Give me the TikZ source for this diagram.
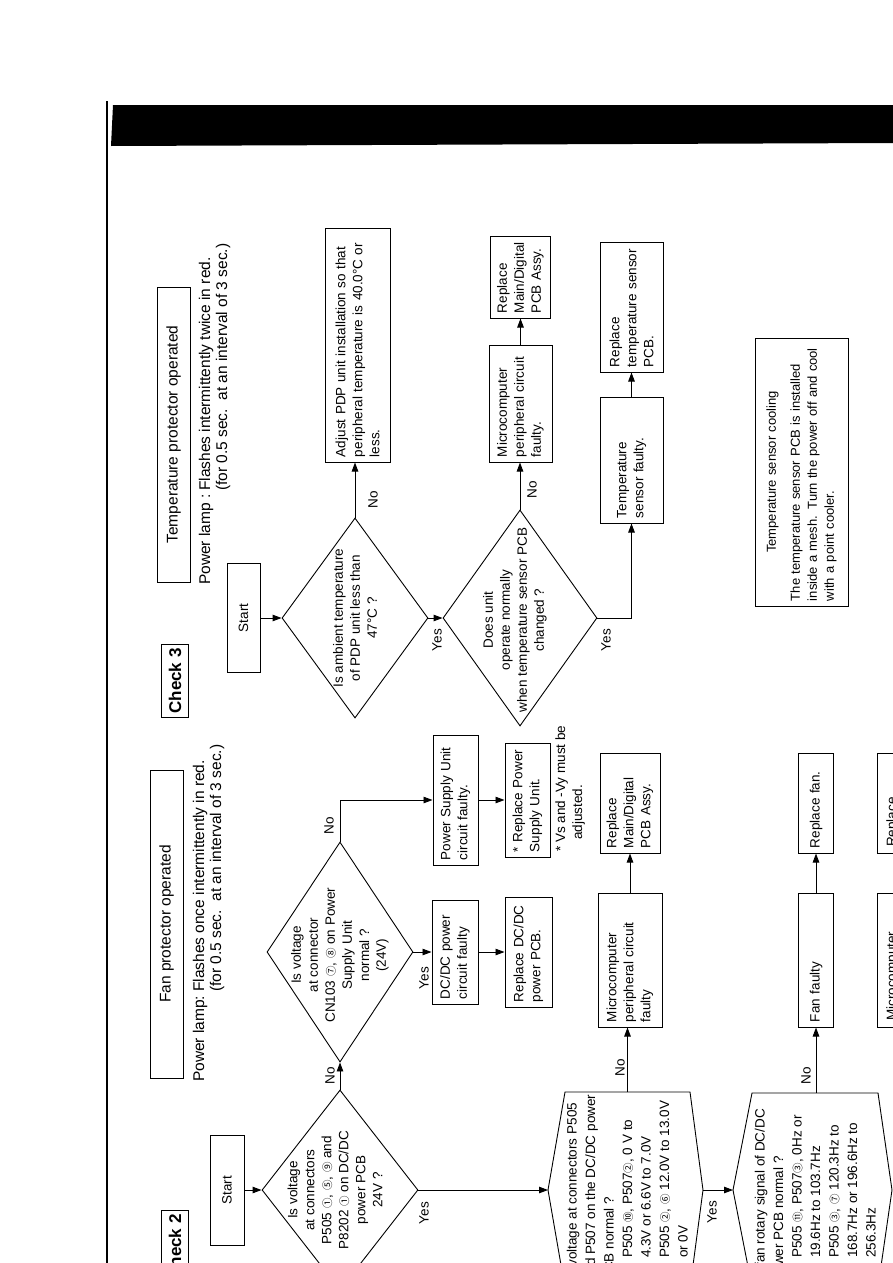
\documentclass[tikz,border=0pt]{standalone}
\usepackage{fontspec}
\setmainfont{Liberation Sans}
\newfontfamily\cjkc{Noto Sans CJK SC}
\usetikzlibrary{arrows.meta,shapes.geometric}
\newcommand\cir[1]{{\cjkc\fontsize{10.5}{10.5}\selectfont #1}}
\newcommand\rline[4]{\node[lbl, anchor=base west] (#1) at (#2,#3) {#4};}
\begin{document}
\begin{tikzpicture}[x=1pt,y=-1pt]
\tikzset{
 base/.style={font=\fontsize{13.5}{17}\selectfont},
 bx/.style={draw, line width=1pt, rotate=90, inner xsep=5pt, inner ysep=2pt, align=left, base},
 cbx/.style={draw, line width=1pt, rotate=90, inner sep=2pt, align=center, base},
 dia/.style={draw, line width=0.9pt, diamond, inner sep=0pt},
 lbl/.style={rotate=90, inner sep=0pt, base},
 hd/.style={rotate=90, inner sep=0pt, font=\fontsize{15.5}{19}\selectfont},
 arr/.style={line width=0.9pt, -{Triangle[length=9pt,width=6.5pt]}},
 ln/.style={line width=0.9pt},
}
\useasboundingbox (0,0) rectangle (893,1263);
\clip (0,0) rectangle (893,1263);

% header bar and left rule
\fill (113,105) -- (893,105) -- (893,143) -- (111,146) -- cycle;
\draw[line width=1.2pt] (107,101) -- (107,1263);

% ================= Check 3 =================
\node[cbx, line width=1.5pt, font=\bfseries\fontsize{17}{17}\selectfont, minimum width=73pt, minimum height=27pt] (c3) at (175,681) {Check 3};
\node[cbx, font=\fontsize{15.5}{19}\selectfont, minimum width=295pt, minimum height=33pt] (t3) at (173.5,434.5) {Temperature protector operated};
\node[hd, anchor=base west] (pl3a) at (210,585) {Power lamp :};
\node[hd, anchor=base west] (pl3b) at (210,491) {Flashes intermittently twice in red.};
\node[hd, anchor=base west] (pl3c) at (227,491) {(for 0.5 sec.\ \ at an interval of 3 sec.)};

\node[cbx, minimum width=109pt, minimum height=33pt] (s3) at (243.5,618) {Start};
\node[dia, minimum width=146pt, minimum height=200pt] (d1) at (355,618) {};
\node[lbl, align=center] (d1t) at (355,618) {Is ambient temperature\\of PDP unit less than\\47°C ?};
\node[bx, text width=224pt, minimum height=65pt] (adj) at (357.5,345) {Adjust PDP unit installation so that\\peripheral temperature is 40.0°C or\\less.};
\node[dia, minimum width=154pt, minimum height=216pt] (d2) at (520,618) {};
\node[lbl, align=center] (d2t) at (515,620) {Does unit\\operate normally\\when temperature sensor PCB\\changed ?};
\node[bx, text width=107pt, minimum height=63pt] (mc3) at (520.5,403.5) {Microcomputer\\peripheral circuit\\faulty.};
\node[bx, text width=72pt, minimum height=60pt] (rep3) at (520.5,277) {Replace\\Main/Digital\\PCB Assy.};
\node[bx, text width=116pt, minimum height=63pt] (ts) at (631.5,460) {Temperature\\sensor faulty.};
\node[bx, text width=120pt, minimum height=63pt] (rts) at (631.5,307) {Replace\\temperature sensor\\PCB.};
\node[bx, inner xsep=5pt, text width=258pt, minimum height=93pt, font=\fontsize{13}{17}\selectfont] (tsc) at (801.5,472) {\makebox[258pt]{Temperature sensor cooling}\\[7pt]The temperature sensor PCB is installed\\inside a mesh. Turn the power off and cool\\with a point cooler.};

\node[lbl] (no1) at (373,500) {No};
\node[lbl] (yes1) at (437,640) {Yes};
\node[lbl] (no2) at (532,490) {No};
\node[lbl] (yes2) at (606,640) {Yes};

\draw[arr] (s3.south) -- (d1.west);
\draw[arr] (d1.north) -- (d1.north |- adj.west);
\draw[arr] (d1.east) -- (d2.west);
\draw[arr] (d2.north) -- (d2.north |- mc3.west);
\draw[arr] (mc3.east) -- (rep3.west);
\draw[arr] (d2.east) -| (ts.west);
\draw[arr] (ts.east) -- (rts.west);

% ================= Check 2 =================
\node[cbx, line width=1.5pt, font=\bfseries\fontsize{17}{17}\selectfont, minimum width=73pt, minimum height=27pt] (c2) at (175,1247) {Check 2};
\node[cbx, font=\fontsize{15.5}{19}\selectfont, minimum width=308pt, minimum height=33pt] (t2) at (166.5,924) {Fan protector operated};
\node[hd, anchor=base west] (pl2a) at (204,1082) {Power lamp:};
\node[hd, anchor=base west] (pl2b) at (204,992) {Flashes once intermittently in red.};
\node[hd, anchor=base west] (pl2c) at (221,992) {(for 0.5 sec.\ \ at an interval of 3 sec.)};

\node[cbx, minimum width=110pt, minimum height=34pt] (s2) at (227,1190) {Start};
\node[dia, minimum width=156pt, minimum height=200pt] (dA) at (340,1190) {};
\node[lbl, align=center] (dAt) at (335,1190) {Is voltage\\at connectors\\P505 \cir{①}, \cir{⑤}, \cir{⑨} and\\P8202 \cir{①} on DC/DC\\power PCB\\24V ?};
\node[dia, minimum width=146pt, minimum height=220pt] (dB) at (340,952) {};
\node[lbl, align=center] (dBt) at (340,955) {Is voltage\\at connector\\CN103 \cir{⑦}, \cir{⑧} on Power\\Supply Unit\\normal ?\\(24V)};

\node[bx, text width=120pt, minimum height=45pt] (ps) at (455.5,800) {Power Supply Unit\\circuit faulty.};
\node[bx, text width=104pt, minimum height=45pt] (rps) at (527.5,800) {* Replace Power\\Supply Unit.};
\node[lbl, anchor=base west] (nt1) at (565,852) {* Vs and -Vy must be};
\node[lbl, anchor=base west] (nt2) at (582,840) {adjusted.};
\node[bx, text width=94pt, minimum height=46pt] (dcf) at (455,952) {DC/DC power\\circuit faulty};
\node[bx, text width=100pt, minimum height=47pt] (rdc) at (528.5,952) {Replace DC/DC\\power PCB.};

\node[bx, text width=124pt, minimum height=64pt] (mc2) at (630,960) {Microcomputer\\peripheral circuit\\faulty};
\node[bx, text width=90pt, minimum height=60pt] (rep2) at (630,803) {Replace\\Main/Digital\\PCB Assy.};
\node[bx, text width=124pt, minimum height=35pt] (ff) at (816,960) {Fan faulty};
\node[bx, text width=90pt, minimum height=35pt] (rf) at (816,803) {Replace fan.};
\node[bx, text width=124pt, minimum height=63pt] (mc4) at (909,960) {};
\node[bx, text width=90pt, minimum height=63pt] (rep4) at (909,803) {};
\rline{mc4t}{896}{1021}{Microcomputer}
\rline{rep4t}{896}{847}{Replace}

% hexagon 1
\coordinate (h1w) at (548,1190);
\coordinate (h1nw) at (565,1092);
\coordinate (h1n) at (627.5,1092);
\coordinate (h1ne) at (690,1092);
\coordinate (h1e) at (703,1190);
\coordinate (h1se) at (690,1288);
\coordinate (h1sw) at (565,1288);
\draw[ln] (h1w) -- (h1nw) -- (h1ne) -- (h1e) -- (h1se) -- (h1sw) -- cycle;
\rline{h1t1}{576.5}{1281}{Is voltage at connectors P505}
\rline{h1t2}{595}{1281}{and P507 on the DC/DC power}
\rline{h1t3}{613.5}{1281}{PCB normal ?}
\rline{h1t4}{632}{1258}{P505 \cir{⑩}, P507\cir{②}, 0 V to}
\rline{h1t5}{650.5}{1258}{4.3V or 6.6V to 7.0V}
\rline{h1t6}{669}{1258}{P505 \cir{②}, \cir{⑥} 12.0V to 13.0V}
\rline{h1t7}{687.5}{1258}{or 0V}

% hexagon 2
\coordinate (h2w) at (733,1190);
\coordinate (h2nw) at (752,1093);
\coordinate (h2n) at (816,1093);
\coordinate (h2ne) at (878,1093);
\coordinate (h2e) at (892,1190);
\coordinate (h2se) at (878,1287);
\coordinate (h2sw) at (752,1287);
\draw[ln] (h2w) -- (h2nw) -- (h2ne) -- (h2e) -- (h2se) -- (h2sw) -- cycle;
\rline{h2t1}{764.5}{1281}{Is fan rotary signal of DC/DC}
\rline{h2t2}{783}{1281}{power PCB normal ?}
\rline{h2t3}{801.5}{1258}{P505 \cir{⑪}, P507\cir{③}, 0Hz or}
\rline{h2t4}{820}{1258}{19.6Hz to 103.7Hz}
\rline{h2t5}{838.5}{1258}{P505 \cir{③}, \cir{⑦} 120.3Hz to}
\rline{h2t6}{857}{1258}{168.7Hz or 196.6Hz to}
\rline{h2t7}{875.5}{1258}{256.3Hz}

\node[lbl] (noA) at (330,1076) {No};
\node[lbl] (noB) at (329,826) {No};
\node[lbl] (yesB) at (424,978) {Yes};
\node[lbl] (yesA) at (424,1213) {Yes};
\node[lbl] (noH1) at (620,1068) {No};
\node[lbl] (yesH1) at (712,1212) {Yes};
\node[lbl] (noH2) at (806,1076) {No};

\draw[arr] (s2.south) -- (dA.west);
\draw[arr] (dA.north) -- (dB.south);
\draw[arr] (dB.north) |- (ps.north);
\draw[arr] (dB.east) -- (dcf.north);
\draw[arr] (ps.south) -- (rps.north);
\draw[arr] (dcf.south) -- (rdc.north);
\draw[arr] (dA.east) -- (h1w);
\draw[arr] (h1n) -- (h1n |- mc2.west);
\draw[arr] (mc2.east) -- (rep2.west);
\draw[arr] (h1e) -- (h2w);
\draw[arr] (h2n) -- (h2n |- ff.west);
\draw[arr] (ff.east) -- (rf.west);
\end{tikzpicture}
\end{document}
